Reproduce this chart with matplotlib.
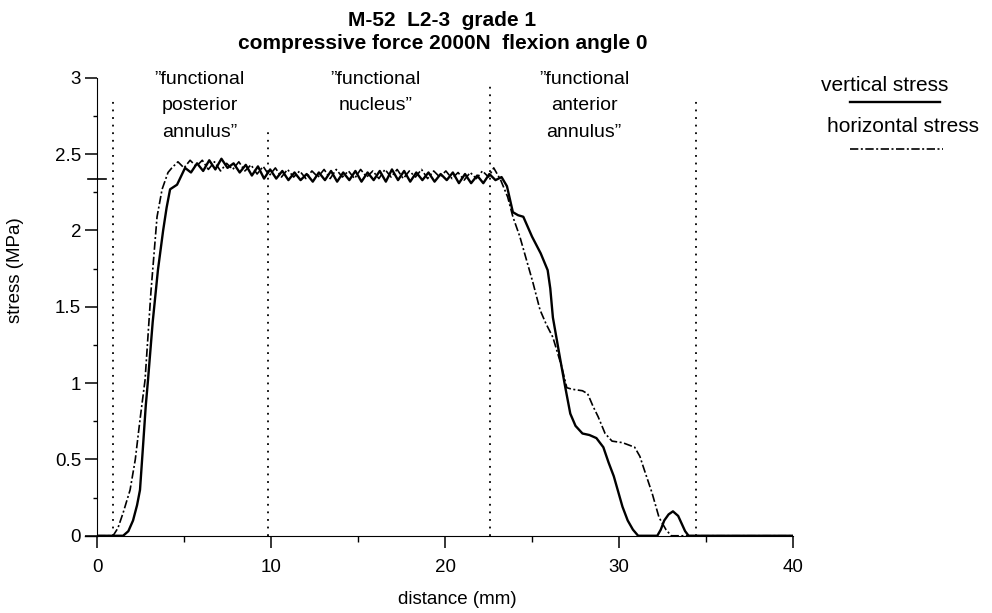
import matplotlib
matplotlib.use("Agg")
import matplotlib.pyplot as plt
import matplotlib.ticker as ticker
from matplotlib.lines import Line2D

plt.rcParams["font.family"] = ["Liberation Sans", "DejaVu Sans"]

# vertical stress (solid curve), distance in mm / stress in MPa
vert_x = [0, 1.5, 1.8, 2.07, 2.3, 2.47, 2.64, 2.8, 2.93, 3.2, 3.5, 3.8, 4.0, 4.2, 4.6, 5.06,
          5.4, 5.75, 6.1, 6.45, 6.8, 7.15, 7.5, 7.85, 8.2, 8.55, 8.9, 9.25, 9.6, 9.95,
          10.3, 10.65, 11.0, 11.35, 11.7, 12.05, 12.4, 12.75, 13.1, 13.45, 13.8, 14.15,
          14.5, 14.85, 15.2, 15.55, 15.9, 16.25, 16.6, 16.95, 17.3, 17.65, 18.0, 18.35,
          18.7, 19.05, 19.4, 19.75, 20.1, 20.45, 20.8, 21.15, 21.5, 21.85, 22.2, 22.55,
          22.9, 23.25, 23.56, 23.9, 24.2, 24.5, 25.0, 25.5, 25.9, 26.05, 26.2, 26.6, 26.9,
          27.2, 27.5, 27.9, 28.3, 28.7, 29.1, 29.4, 29.7, 30.2, 30.5, 30.8, 31.1, 32.2,
          32.4, 32.6, 32.85, 33.1, 33.4, 33.6, 33.8, 34.0, 40]
vert_y = [0, 0, 0.03, 0.1, 0.2, 0.3, 0.58, 0.85, 1.02, 1.4, 1.74, 2.0, 2.15, 2.27, 2.30, 2.41,
          2.38, 2.44, 2.39, 2.46, 2.40, 2.47, 2.41, 2.44, 2.38, 2.43, 2.36, 2.42, 2.34, 2.40,
          2.34, 2.39, 2.33, 2.38, 2.33, 2.37, 2.32, 2.38, 2.33, 2.39, 2.32, 2.38,
          2.33, 2.39, 2.32, 2.38, 2.33, 2.39, 2.32, 2.40, 2.33, 2.39, 2.32, 2.38,
          2.33, 2.38, 2.32, 2.37, 2.33, 2.38, 2.31, 2.37, 2.31, 2.36, 2.31, 2.37,
          2.33, 2.35, 2.29, 2.12, 2.10, 2.09, 1.96, 1.85, 1.74, 1.62, 1.43, 1.17, 0.98,
          0.80, 0.72, 0.67, 0.66, 0.64, 0.58, 0.48, 0.39, 0.19, 0.10, 0.04, 0.0, 0.0,
          0.04, 0.10, 0.14, 0.16, 0.13, 0.08, 0.03, 0.0, 0]

# horizontal stress (dash-dot curve)
horiz_x = [0, 0.92, 1.2, 1.5, 1.9, 2.2, 2.47, 2.76, 3.1, 3.45, 3.74, 4.08,
           4.3, 4.65, 5.0, 5.35, 5.7, 6.05, 6.4, 6.75, 7.1, 7.45, 7.8, 8.15, 8.5, 8.85,
           9.2, 9.55, 9.9, 10.25, 10.6, 10.95, 11.3, 11.65, 12.0, 12.35, 12.7, 13.05,
           13.4, 13.75, 14.1, 14.45, 14.8, 15.15, 15.5, 15.85, 16.2, 16.55, 16.9, 17.25,
           17.6, 17.95, 18.3, 18.65, 19.0, 19.35, 19.7, 20.05, 20.4, 20.75, 21.1, 21.45,
           21.8, 22.15, 22.5, 22.8, 23.2, 23.6, 23.9, 24.3, 24.7, 25.05, 25.46, 25.8,
           26.2, 26.7, 27.0, 27.3, 27.9, 28.2, 28.5, 28.8, 29.2, 29.6, 30.2, 30.9, 31.2,
           31.4, 31.9, 32.3, 32.7, 33.0, 40]
horiz_y = [0, 0, 0.05, 0.15, 0.3, 0.5, 0.76, 1.02, 1.6, 2.09, 2.27, 2.38,
           2.41, 2.45, 2.41, 2.46, 2.42, 2.46, 2.40, 2.45, 2.39, 2.44, 2.40, 2.45, 2.39, 2.43,
           2.37, 2.42, 2.36, 2.41, 2.35, 2.40, 2.35, 2.39, 2.34, 2.39, 2.35, 2.40,
           2.34, 2.40, 2.35, 2.39, 2.34, 2.40, 2.35, 2.39, 2.34, 2.40, 2.35, 2.40,
           2.34, 2.39, 2.35, 2.40, 2.34, 2.39, 2.35, 2.39, 2.34, 2.38, 2.33, 2.38,
           2.34, 2.39, 2.35, 2.41, 2.33, 2.22, 2.09, 1.96, 1.80, 1.66, 1.48, 1.39,
           1.30, 1.11, 0.97, 0.96, 0.95, 0.93, 0.85, 0.78, 0.67, 0.62, 0.61, 0.58, 0.52,
           0.45, 0.28, 0.12, 0.04, 0.0, 0]

# region boundaries (dotted) and their top ends
zone_x = [0.9, 9.8, 22.6, 34.4]
zone_top = [2.85, 2.67, 2.97, 2.85]
zone_labels = ["\u201dfunctional\nposterior\nannulus\u201d",
               "\u201dfunctional\nnucleus\u201d",
               "\u201dfunctional\nanterior\nannulus\u201d"]
zone_label_x = [5.9, 16.0, 28.0]
mean_stress = 2.34

DASHDOT = (0, (5, 1.5, 1.2, 1.5))

fig = plt.figure(figsize=(9.92, 6.13), dpi=100)
ax = fig.add_axes([0.0978, 0.126, 0.7016, 0.747])

ax.plot(vert_x, vert_y, color="black", lw=1.7, solid_joinstyle="round")
ax.plot(horiz_x, horiz_y, color="black", lw=1.2, linestyle=DASHDOT)

for x, top in zip(zone_x, zone_top):
    ax.plot([x, x], [0, top], color="black", lw=1.3, linestyle=(0, (1, 3.2)))

for x, label in zip(zone_label_x, zone_labels):
    ax.text(x, 3.045, label, ha="center", va="top", fontsize=14, linespacing=1.72)

# small mark on the y axis and the x axis stub left of the origin
ax.plot([-0.5, 0.5], [mean_stress, mean_stress], color="black", lw=1.2, clip_on=False)
ax.plot([-0.7, 0], [0, 0], color="black", lw=1.0, clip_on=False)

ax.set_xlim(0, 40)
ax.set_ylim(0, 3)
ax.spines["top"].set_visible(False)
ax.spines["right"].set_visible(False)
ax.xaxis.set_major_locator(ticker.MultipleLocator(10))
ax.xaxis.set_minor_locator(ticker.MultipleLocator(5))
ax.yaxis.set_major_locator(ticker.MultipleLocator(0.5))
ax.yaxis.set_minor_locator(ticker.MultipleLocator(0.25))
ax.yaxis.set_major_formatter(ticker.FuncFormatter(lambda v, p: f"{v:g}"))
ax.tick_params(axis="x", which="major", length=8.5, width=1.1, pad=8, labelsize=13.5)
ax.tick_params(axis="x", which="minor", length=4.5, width=1.0)
ax.tick_params(axis="y", which="major", length=8.5, width=1.1, pad=3, labelsize=13.5)
ax.tick_params(axis="y", which="minor", length=3, width=1.0)
ax.set_xlabel("distance (mm)", fontsize=13.5)
ax.xaxis.set_label_coords(0.517, -0.12)
ax.set_ylabel("stress (MPa)", fontsize=13.5)
ax.yaxis.set_label_coords(-0.105, 0.58)

fig.text(0.446, 0.966, "M-52  L2-3  grade 1", ha="center", va="center",
         fontsize=15, fontweight="bold")
fig.text(0.446, 0.929, "compressive force 2000N  flexion angle 0", ha="center",
         va="center", fontsize=15, fontweight="bold")

# legend: label above a line sample
fig.text(0.892, 0.861, "vertical stress", ha="center", va="center", fontsize=15)
fig.add_artist(Line2D([0.857, 0.948], [0.834, 0.834], color="black", lw=1.7))
fig.text(0.910, 0.793, "horizontal stress", ha="center", va="center", fontsize=15)
fig.add_artist(Line2D([0.857, 0.951], [0.757, 0.757], color="black", lw=1.2,
                      linestyle=DASHDOT))

fig.savefig("out.png", dpi=100)
